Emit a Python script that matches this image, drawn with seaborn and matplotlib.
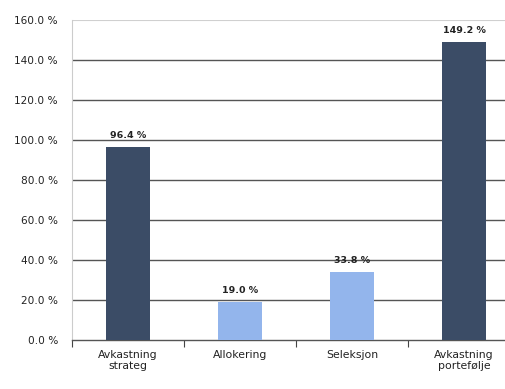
import matplotlib
matplotlib.use("Agg")
import matplotlib.pyplot as plt
import seaborn as sns
import pandas as pd
import numpy as np

categories = ["Avkastning\nstrateg", "Allokering", "Seleksjon", "Avkastning\nportefølje"]
values = [96.4, 19.0, 33.8, 149.2]
value_labels = ["96.4 %", "19.0 %", "33.8 %", "149.2 %"]
yticks = [0, 20, 40, 60, 80, 100, 120, 140, 160]

sns.set_theme(style="white")
plt.rcParams['font.family'] = ['DejaVu Sans']

df = pd.DataFrame({"cat": categories, "val": values})
colors = ["#3b4c66", "#93b5ec", "#93b5ec", "#3b4c66"]

fig = plt.figure(figsize=(5.06, 3.89), dpi=100)
ax = fig.add_axes([72/506, 1 - 340/389, 448/506, 320/389])

sns.barplot(data=df, x="cat", y="val", hue="cat", palette=colors, legend=False,
            width=0.39, ax=ax, saturation=1, zorder=3, linewidth=0)

ax.set_ylim(0, 160)
ax.set_xlim(-0.5, 3.5)
ax.set_yticks(yticks)
ax.set_yticklabels([f"{t:.1f} %" for t in yticks], fontsize=7.6, color="#222222")
ax.tick_params(axis="y", length=0, pad=10)
ax.tick_params(axis="x", length=0, pad=7, labelsize=7.8, labelcolor="#222222")
ax.set_xticks(range(4))
ax.set_xticklabels(categories)
ax.set_xticks(np.arange(-0.5, 4, 1), minor=True)
ax.tick_params(axis="x", which="minor", bottom=True, length=5, width=0.8,
               color="#444444", direction="out")
ax.set_xlabel("")
ax.set_ylabel("")

for t in yticks[1:-1]:
    ax.axhline(t, color="#555555", linewidth=1.0, zorder=0)
ax.axhline(160, color="#d0d0d0", linewidth=0.8, zorder=0)
for s in ["top", "right"]:
    ax.spines[s].set_visible(False)
ax.spines["left"].set_color("#cccccc")
ax.spines["left"].set_linewidth(0.8)
ax.spines["bottom"].set_color("#555555")
ax.spines["bottom"].set_linewidth(1.0)

for i, (v, lab) in enumerate(zip(values, value_labels)):
    ax.text(i, v + 3.5, lab, ha="center", va="bottom", fontsize=6.8, fontweight="bold", color="#222222", zorder=4)

fig.savefig("out.png", dpi=100)
